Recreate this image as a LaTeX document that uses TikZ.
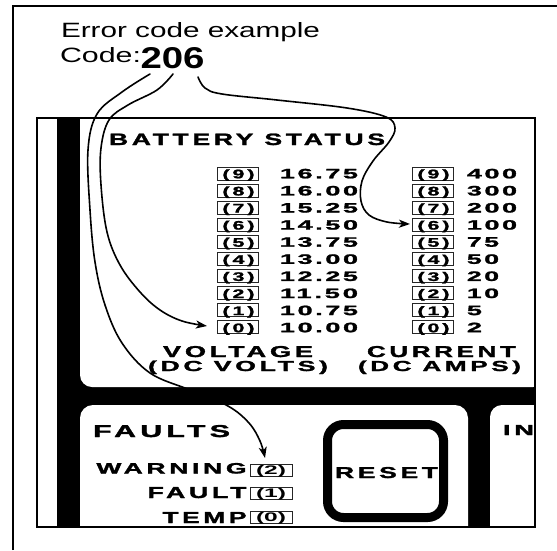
\documentclass[tikz,border=0pt]{standalone}
\usepackage{fontspec}
\setmainfont{Liberation Sans}
\newfontfamily\pnl{Liberation Sans}[LetterSpace=14, BoldFeatures={FakeBold=1.5}]
\newfontfamily\pnd{Liberation Sans}[LetterSpace=10, BoldFeatures={FakeBold=1.5}]
\usetikzlibrary{arrows.meta}
\newcommand\fit[3]{\resizebox{#1pt}{#2pt}{#3}}
\begin{document}
\begin{tikzpicture}[x=1pt,y=1pt,
  lbl/.style={inner sep=0pt, outer sep=0pt},
  wd/.style={lbl, font=\pnl\bfseries},
  dg/.style={lbl, font=\pnd\bfseries},
  bx/.style={draw=black!85, line width=0.9pt, minimum width=41pt, minimum height=13pt, inner sep=0pt},
  fbx/.style={bx, minimum width=42pt, minimum height=12pt},
  cur/.style={line width=1.6pt, -{Stealth[length=11pt,width=8pt,inset=3pt]}, line cap=round},
]
\useasboundingbox (0,0) rectangle (557,-550);
\fill[white] (0,0) rectangle (557,-550);
% outer frame (cut at the right and bottom)
\draw[line width=2pt] (13,-550) -- (13,-6) -- (557,-6);
% panel background
\fill[black] (57,-118) rectangle (535,-527);
\fill[white, rounded corners=12pt] (80,-100) rectangle (545,-387);
\fill[white, rounded corners=13pt] (80,-405) rectangle (468,-545);
\fill[white, rounded corners=12pt] (490,-405) rectangle (545,-545);
\draw[line width=2pt] (37,-118) rectangle (535,-527);
% header texts
\node[lbl, anchor=base west] (title) at (61,-37) {\fit{259}{15}{Error code example}};
\node[lbl, anchor=base west] (codelbl) at (60,-62) {\fit{81}{15}{Code:}};
\node[lbl, anchor=base west, font=\bfseries] (code) at (140.5,-68) {\fit{64}{21}{206}};
% battery status
\node[wd, anchor=base west] (bat) at (109,-145) {\fit{276}{11.5}{BATTERY STATUS}};
\foreach \i/\v/\c/\w [count=\k from 0] in {9/16.75/400/50, 8/16.00/300/50, 7/15.25/200/50, 6/14.50/100/50, 5/13.75/75/32, 4/13.00/50/32, 3/12.25/20/32, 2/11.50/10/32, 1/10.75/5/15, 0/10.00/2/15}{
  \pgfmathsetmacro\yc{-(173.5+17.1*\k)}
  \pgfmathsetmacro\yb{-(178.3+17.1*\k)}
  \node[bx] (v\i) at (237.5,\yc) {};
  \node[wd, anchor=base] (vl\i) at ([yshift=-4.8pt,xshift=1pt]v\i.center) {\fit{32}{9}{(\i)}};
  \node[dg, anchor=base west] (vn\i) at (280,\yb) {\fit{78}{9.5}{\v}};
  \node[bx] (c\i) at (432.5,\yc) {};
  \node[wd, anchor=base] (cl\i) at ([yshift=-4.8pt,xshift=1pt]c\i.center) {\fit{32}{9}{(\i)}};
  \node[dg, anchor=base west] (cn\i) at (467,\yb) {\fit{\w}{9.5}{\c}};
}
\node[wd, anchor=base west] (volt) at (163,-357) {\fit{150}{11}{VOLTAGE}};
\node[wd, anchor=base west] (voltu) at (148,-371) {\fit{180}{10.5}{(DC VOLTS)}};
\node[wd, anchor=base west] (curr) at (367,-357) {\fit{149}{11}{CURRENT}};
\node[wd, anchor=base west] (curru) at (358,-371) {\fit{163}{10.5}{(DC AMPS)}};
% faults
\node[wd, anchor=base west] (faults) at (93,-437) {\fit{137}{12}{FAULTS}};
\node[wd, anchor=base east] (warn) at (246.5,-473.5) {\fit{150}{10.5}{WARNING}};
\node[wd, anchor=base east] (fault) at (246.5,-498) {\fit{99}{11}{FAULT}};
\node[wd, anchor=base east] (temp) at (246.5,-523) {\fit{84}{11}{TEMP}};
\node[fbx] (f2) at (271,-470) {};
\node[fbx] (f1) at (271,-493) {};
\node[fbx] (f0) at (271,-517) {};
\foreach \i in {2,1,0}{
  \node[lbl, font=\bfseries, anchor=base] (fl\i) at ([yshift=-4.6pt]f\i.center) {\fit{30}{9}{(\i)}};
}
% reset button
\draw[line width=9pt, rounded corners=16pt] (327.5,-424.5) rectangle (443.5,-517.5);
\node[wd, anchor=base west] (reset) at (335,-478) {\fit{103}{11}{RESET}};
\node[wd, anchor=base west] (ind) at (503,-435) {\fit{31}{10}{IN}};
% connectors
\coordinate (s2) at (150,-74);
\coordinate (s0) at (173,-74);
\coordinate (s6) at (198,-77);
\draw[cur] plot[smooth, tension=0.6] coordinates {(s2) (122,-92) (97,-114) (88,-150) (90,-210) (95,-262) (105,-305) (122,-343) (150,-373) (190,-390) (228,-406) (249,-423) (260,-441) (265,-458)};
\draw[cur] plot[smooth, tension=0.6] coordinates {(s0) (157,-90) (128,-105) (109,-120) (101,-148) (101,-185) (107,-232) (120,-265) (140,-292) (160,-310) (182,-321) (207,-326)};
\draw[cur] plot[smooth, tension=0.6] coordinates {(s6) (205,-88) (222,-94) (277,-100) (347,-108) (386,-117) (395,-128) (389,-142) (373,-161) (362,-181) (361,-201) (369,-215) (387,-222) (410,-224)};
\end{tikzpicture}
\end{document}
